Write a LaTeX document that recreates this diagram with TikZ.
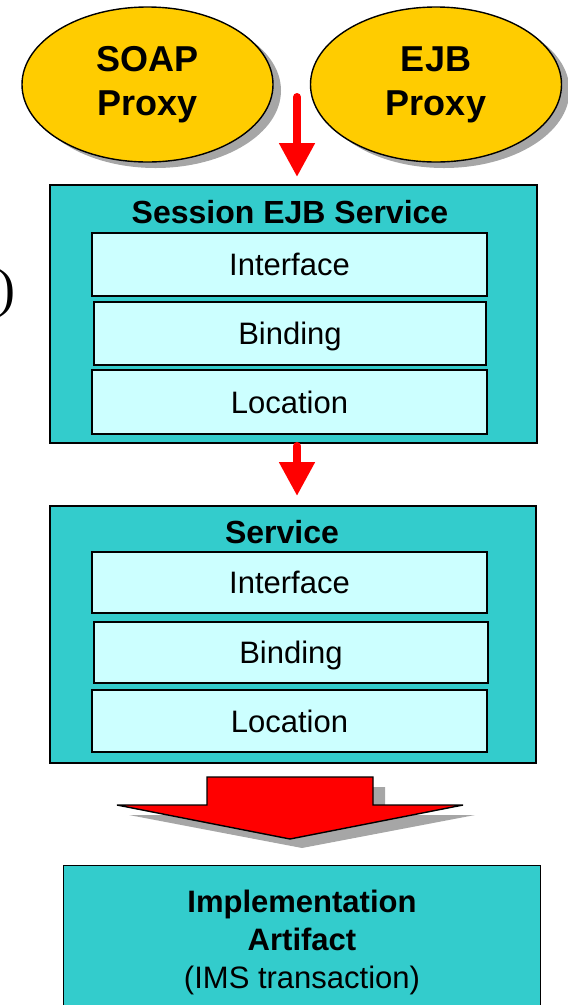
\documentclass[tikz,border=0pt]{standalone}
\usepackage{fontspec}
\setmainfont{Liberation Sans}
\newfontfamily\parenfont{Liberation Serif}
\usetikzlibrary{arrows.meta,shapes.geometric,shadows}

\definecolor{proxyGold}{HTML}{FFCC00}
\definecolor{boxTeal}{HTML}{33CCCC}
\definecolor{paneCyan}{HTML}{CCFFFF}
\definecolor{flowRed}{HTML}{FF0000}
\definecolor{shadowGray}{HTML}{A6A6A6}

\tikzset{
  proxy/.style={ellipse, draw=black, line width=1.4pt, fill=proxyGold,
    minimum width=251pt, minimum height=155pt, inner sep=0pt,
    align=center, font=\fontsize{36}{44}\selectfont\bfseries,
    drop shadow={shadow xshift=8pt, shadow yshift=-6pt, fill=shadowGray, opacity=1}},
  container/.style={rectangle, draw=black, line width=1.4pt, fill=boxTeal,
    inner sep=0pt},
  pane/.style={rectangle, draw=black, line width=1.8pt, fill=paneCyan,
    inner sep=0pt, font=\fontsize{31}{37}\selectfont,
    text height=22pt, text depth=0pt},
  boxtitle/.style={anchor=base, inner sep=0pt, font=\fontsize{32}{38}\selectfont\bfseries},
  flow/.style={draw=flowRed, line width=8pt, line cap=round,
    -{Triangle[length=34pt, width=34pt]}},
}

\begin{document}
\begin{tikzpicture}[x=1pt, y=-1pt]
\useasboundingbox (0,0) rectangle (568,1005);
\clip (0,0) rectangle (568,1005);

% proxies
\node[proxy] (soap) at (147.5,84.5) {SOAP\\Proxy};
\node[proxy] (ejb)  at (436,84.5) {EJB\\Proxy};

% stray closing parenthesis at the left margin
\node[inner sep=0pt, font=\parenfont\fontsize{54}{60}\selectfont] (paren) at (6,294) {)};

% session EJB service
\node[container, minimum width=487pt, minimum height=258pt] (sess) at (293.5,314) {};
\node[boxtitle] (sessTitle) at (290,223) {Session EJB Service};
\node[pane, minimum width=395pt, minimum height=63pt] (sIface) at (289.5,264.5) {Interface};
\node[pane, minimum width=392pt, minimum height=63pt] (sBind)  at (290,333.5) {Binding};
\node[pane, minimum width=395pt, minimum height=64pt] (sLoc)   at (289.5,402) {Location};

% service
\node[container, minimum width=486pt, minimum height=257pt] (svc) at (293,634.5) {};
\node[boxtitle] (svcTitle) at (282,543) {Service};
\node[pane, minimum width=395pt, minimum height=61pt] (vIface) at (289.5,582.5) {Interface};
\node[pane, minimum width=394pt, minimum height=61pt] (vBind)  at (291,652.5) {Binding};
\node[pane, minimum width=395pt, minimum height=62pt] (vLoc)   at (289.5,721) {Location};

% implementation artifact
\node[container, minimum width=477pt, minimum height=160pt, anchor=north west] (impl) at (63,865) {};
\node[align=center, inner sep=0pt, anchor=base, font=\fontsize{31}{38}\selectfont] (implText) at (302,988)
  {\textbf{Implementation}\\\textbf{Artifact}\\(IMS transaction)};

% small red flow arrows
\coordinate (a1s) at (297,97);
\coordinate (a1e) at (297,177);
\draw[flow] (a1s) -- (a1e);
\coordinate (a2s) at (297,446);
\coordinate (a2e) at (297,496);
\draw[flow] (a2s) -- (a2e);

% big block arrow with its shadow
\fill[shadowGray] (219,787) -- (385,787) -- (385,815) -- (475,815) -- (302,848) -- (129,815) -- (219,815) -- cycle;
\filldraw[fill=flowRed, draw=black, line width=1.4pt, line join=miter]
  (207,777) -- (373,777) -- (373,805) -- (463,805) -- (290,839) -- (117,805) -- (207,805) -- cycle;
\end{tikzpicture}
\end{document}
